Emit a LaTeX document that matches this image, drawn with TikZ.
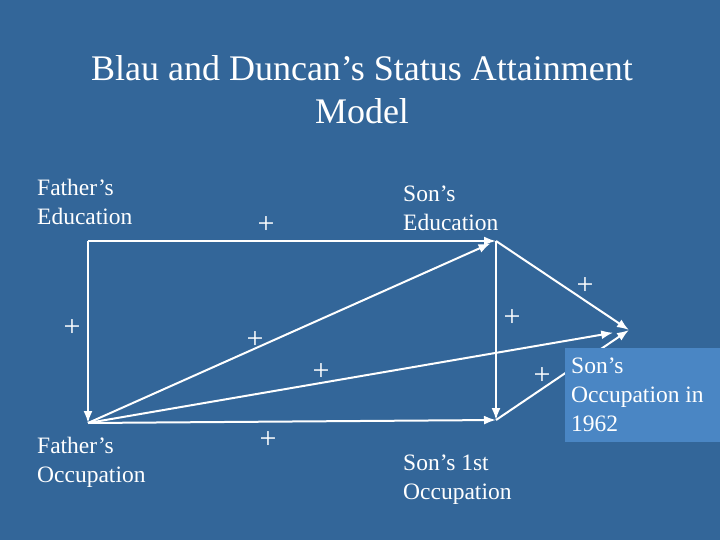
\documentclass[tikz,border=0pt]{standalone}
\usepackage{fontspec}
\setmainfont{Liberation Serif}
\usetikzlibrary{arrows.meta}
\definecolor{slide}{RGB}{51,102,153}
\definecolor{boxblue}{RGB}{74,134,196}
\tikzset{
  link/.style={draw=white, line width=2pt, ->},
  plus/.style={text=white, font=\fontsize{30}{32}\selectfont, inner sep=0pt},
  txt/.style={text=white, font=\fontsize{23.5}{29}\selectfont, align=left, anchor=north west, inner sep=0pt}
}
\begin{document}
\begin{tikzpicture}[x=1pt,y=-1pt,>={Latex[length=12pt,width=9pt]}]
\fill[slide] (0,0) rectangle (720,540);
\useasboundingbox (0,0) rectangle (720,540);
\node[text=white, font=\fontsize{36}{43}\selectfont, align=center] (title) at (362,90) {Blau and Duncan’s Status Attainment\\Model};

\coordinate (fe) at (88,241);
\coordinate (fo) at (88,423);
\coordinate (se) at (496,241);
\coordinate (s1o) at (496,420);
\coordinate (so) at (629,330);

\draw[link] (fe) -- (se);
\draw[link] (fe) -- (fo);
\draw[link, shorten >=6pt] (fo) -- (se);
\draw[link] (fo) -- (s1o);
\draw[link, shorten >=16pt] (fo) -- (so);
\draw[link] (se) -- (s1o);
\draw[link] (se) -- (so);
\draw[link] (s1o) -- (so);

% box over the last arrow
\node[fill=boxblue, anchor=north west, minimum width=155pt, minimum height=94pt, inner sep=0pt] (sobox) at (565,348) {};
\node[txt] (solab) at (571,358) {Son’s\\Occupation in\\1962};

\node[txt] (felab) at (37,179) {Father’s\\Education};
\node[txt] (selab) at (403,186) {Son’s\\Education};
\node[txt] (folab) at (37,437) {Father’s\\Occupation};
\node[txt] (s1olab) at (403,455) {Son’s 1st\\Occupation};

\node[plus] (p1) at (266,225) {+};
\node[plus] (p2) at (585,286) {+};
\node[plus] (p3) at (72,328) {+};
\node[plus] (p4) at (512,318) {+};
\node[plus] (p5) at (255,340) {+};
\node[plus] (p6) at (321,372) {+};
\node[plus] (p7) at (542,376) {+};
\node[plus] (p8) at (268,440) {+};
\end{tikzpicture}
\end{document}
